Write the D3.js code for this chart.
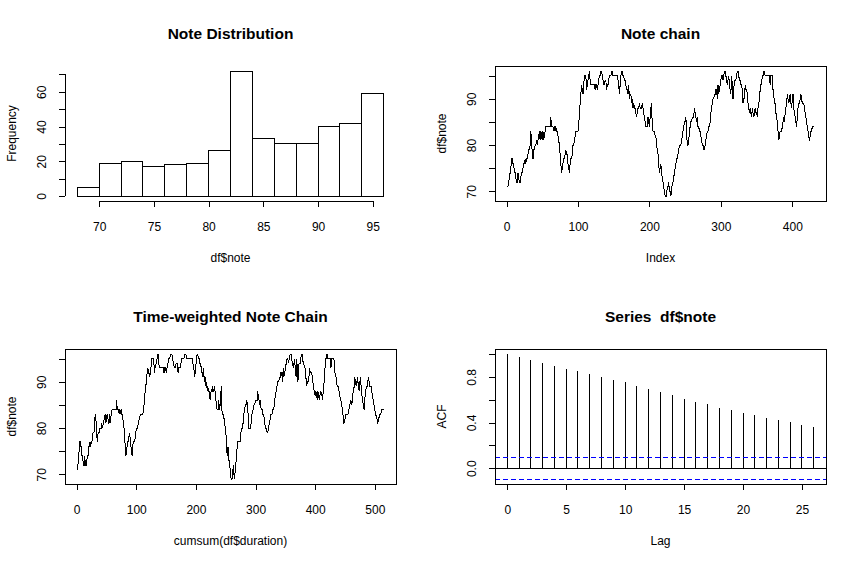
<!DOCTYPE html>
<html>
<head>
<meta charset="utf-8">
<script src="https://cdn.jsdelivr.net/npm/d3@7"></script>
<style>
body { margin: 0; background: #fff; }
svg { display: block; font-family: Arial, "Liberation Sans", sans-serif; }
svg text { white-space: pre; }
</style>
</head>
<body>
<div id="chart"></div>
<script>
// histogram of df$note
const histBreaks = [68, 70, 72, 74, 76, 78, 80, 82, 84, 86, 88, 90, 92, 94, 96];
const histCounts = [5, 19, 20, 17, 18, 19, 26, 72, 33, 30, 30, 40, 42, 59];

// df$note
const notes = [
  71,71,72,73,74,75,77,77,76,76, 74,74,73,72,72,74,73,72,72,73,
  74,74,75,76,76,77,76,77,77,78, 79,79,80,83,81,78,77,79,79,80,
  80,81,80,81,82,83,81,83,82,81, 83,81,82,83,84,84,84,84,84,84,
  84,86,84,84,84,83,84,83,84,83, 83,82,81,80,78,76,74,75,76,77,
  77,78,79,78,78,76,75,74,76,77, 77,78,80,80,81,82,83,83,83,83,
  84,87,89,91,93,92,91,93,95,95, 95,92,93,94,95,96,94,93,93,93,
  93,93,93,92,93,93,92,93,94,95, 95,96,96,95,94,93,93,94,94,92,
  93,93,94,95,95,95,96,96,95,95, 95,95,95,95,95,94,93,91,93,95,
  96,96,95,95,94,94,93,92,92,91, 93,90,91,91,89,90,88,89,88,88,
  87,86,87,88,88,89,88,88,88,89, 88,87,86,85,84,84,84,86,85,84,
  86,88,89,84,83,83,83,82,82,80, 79,78,76,74,75,76,74,73,72,71,
  70,69,69,69,71,71,72,70,70,69, 70,72,72,73,74,75,76,77,77,78,
  79,80,80,80,81,82,83,84,85,85, 86,83,80,80,81,83,84,85,85,86,
  86,86,88,87,86,85,86,84,84,83, 83,82,81,80,80,79,79,80,81,82,
  83,83,84,84,85,87,88,89,90,90, 91,91,92,92,90,93,91,92,93,94,
  95,95,94,95,96,96,95,94,93,94, 95,93,92,91,95,93,90,92,94,94,
  94,95,96,96,95,94,94,93,93,92, 89,90,90,93,92,92,91,89,88,87,
  88,87,86,88,87,86,87,88,87,87, 86,88,89,90,92,93,93,95,95,96,
  96,95,95,95,95,95,95,95,93,95, 95,95,92,91,89,89,87,86,85,83,
  81,82,83,83,83,84,85,86,85,87, 88,89,91,90,89,90,91,89,88,90,
  91,88,87,86,85,84,86,88,89,89, 90,91,90,89,89,89,88,87,86,85,
  84,83,82,81,82,83,83,84,84,84
];

// df$duration, estimated from the time-weighted plot
const durations = [
  1,0.5,0.5,1,0.5,0.5,1,1,1,1, 1,1,0.5,1,1,0.5,1,1,1,1,
  1,1,1,0.5,1,1,1,1,1,1, 1,1.5,1,1,2,1,1,1,1.5,1.5,
  2,1,1.5,1,2,1.5,1,2,1.5,1.5, 1,1,1,1,1.5,1,1,1,1.5,1,
  1,1,1,1,1,1.5,1,1,1,1, 1,1,1,1,1,1,1,1,1,1,
  1,1,1,1,0.5,1,1,1,1,1, 2,1.5,1.5,2,1.5,1.5,2,1.5,1,1.5,
  1.5,1.5,2,1.5,1.5,2,1.5,2,1.5,1.5, 1.5,1.5,1,2,1.5,1.5,1,1.5,1.5,1.5,
  1,1.5,1,1,1.5,1,1.5,1,1.5,1.5, 1.5,2,1.5,1.5,1,2,1.5,1.5,1.5,1.5,
  1.5,2,1.5,1.5,1.5,2,1.5,1.5,1.5,1.5, 1.5,1.5,1.5,1.5,1.5,1.5,1.5,1.5,1.5,1.5,
  1,1,1.5,1,1,1,1.5,1,1,1, 1,1,1,1,1,1,1,1,1,1,
  1,1,0.5,1,1,1,0.5,1,1,1, 1,0.5,1,1,1,1,1,0.5,1,1,
  1,1,1,0.5,1,1,0.5,1,1,1, 1,1,0.5,1,0.5,1,1,0.5,1,1,
  1,0.5,1,0.5,1,0.5,1,0.5,0.5,1, 0.5,0.5,0.5,1,0.5,0.5,1,1,4,0.5,
  0.5,1,0.5,1,1,1,0.5,1,1.5,1, 1.5,2,1.5,2,1.5,1.5,2,1.5,1,1.5,
  1,1.5,1,1,1.5,1,1,1.5,1.5,1, 1.5,1,1,1.5,1,1.5,1,1.5,1,1.5,
  1.5,1.5,1.5,1.5,1,1.5,1.5,1.5,1.5,1.5, 1,1.5,1,1.5,1,1.5,1,1.5,1,1.5,
  1.5,1,1.5,1,1.5,1.5,1,1.5,1.5,1, 1,1,1,0.5,1,1,1,1,1,1,
  1,1,1,1,1,1,1,1,1,1, 1.5,1.5,2,1.5,1.5,2,1.5,1.5,1.5,1.5,
  1,1.5,1,1,1.5,1,1,1.5,1.5,1, 0.5,1,0.5,1,0.5,1,0.5,1,0.5,0.5,
  1,1,0.5,1,1,0.5,1,1,0.5,1, 2,2,1.5,2,2,2,2,2,1.5,2,
  1.5,2,1.5,1.5,2,1.5,1.5,2,1.5,1.5, 1,1.5,1,1,1.5,1,1,1.5,1.5,1,
  1,1.5,1,1,1.5,1,1,1.5,1.5,1, 1,1.5,1,1,1,1.5,1,1,1.5,1,
  1.5,1.5,2,1.5,1.5,2,1.5,2,1.5,1.5
];

// acf(df$note)
const acfValues = [1.000, 0.973, 0.948, 0.922, 0.896, 0.870, 0.853, 0.827, 0.800, 0.775,
  0.757, 0.723, 0.697, 0.671, 0.645, 0.610, 0.584, 0.558, 0.523, 0.506,
  0.480, 0.462, 0.436, 0.419, 0.402, 0.376, 0.358];
const acfCI = 0.0945;

// tick values / labels
const histXTicks = [70, 75, 80, 85, 90, 95];
const histYTicks = [0, 10, 20, 30, 40, 50, 60, 70];
const histYLabels = ["0", "", "20", "", "40", "", "60", ""];
const noteYTicks = [70, 75, 80, 85, 90, 95];
const noteYLabels = ["70", "", "80", "", "90", ""];
const indexTicks = [0, 100, 200, 300, 400];
const timeTicks = [0, 100, 200, 300, 400, 500];
const lagTicks = [0, 5, 10, 15, 20, 25];
const acfYTicks = [0, 0.2, 0.4, 0.6, 0.8, 1.0];
const acfYLabels = ["0.0", "", "0.4", "", "0.8", ""];

const W = 860, H = 566;
const svg = d3.select("#chart").append("svg").attr("width", W).attr("height", H);

// R style 2x2 layout
function panel(col, row) {
  const fx = col * 430, fy = row * 283;
  return { fx: fx, fy: fy, l: fx + 65, r: fx + 396, t: fy + 66, b: fy + 201 };
}
function ext(lo, hi) { const d = (hi - lo) * 0.04; return [lo - d, hi + d]; }

function box(p) {
  svg.append("rect").attr("x", p.l).attr("y", p.t).attr("width", p.r - p.l).attr("height", p.b - p.t)
    .attr("fill", "none").attr("stroke", "#000").attr("shape-rendering", "crispEdges");
}

function xAxis(p, x, ticks, labels) {
  const g = svg.append("g").attr("transform", "translate(0," + p.b + ")")
    .call(d3.axisBottom(x).tickValues(ticks).tickSize(6).tickSizeOuter(0)
      .tickFormat((d, i) => labels ? labels[i] : d));
  g.attr("font-size", null).attr("font-family", null);
  g.select(".domain").remove();
  g.append("line").attr("x1", x(ticks[0])).attr("x2", x(ticks[ticks.length - 1]))
    .attr("stroke", "#000");
  g.selectAll("line").attr("shape-rendering", "crispEdges");
  g.selectAll("text").attr("y", 21.5).attr("dy", "0.71em").style("font-size", "12px").attr("fill", "#000");
}

function yAxis(p, y, ticks, labels) {
  const g = svg.append("g").attr("transform", "translate(" + p.l + ",0)")
    .call(d3.axisLeft(y).tickValues(ticks).tickSize(6).tickSizeOuter(0)
      .tickFormat((d, i) => labels[i]));
  g.attr("font-size", null).attr("font-family", null);
  g.select(".domain").remove();
  g.append("line").attr("y1", y(ticks[0])).attr("y2", y(ticks[ticks.length - 1]))
    .attr("stroke", "#000");
  g.selectAll("line").attr("shape-rendering", "crispEdges");
  g.selectAll("text").attr("x", 0).attr("dy", "0.35em")
    .attr("transform", "translate(-23.5,0) rotate(-90)")
    .attr("text-anchor", "middle").style("font-size", "12px").attr("fill", "#000");
}

function labels(p, main, xlab, ylab) {
  const cx = (p.l + p.r) / 2;
  svg.append("text").attr("x", cx).attr("y", p.fy + 34).attr("dy", "0.35em")
    .attr("text-anchor", "middle").style("font-size", "15.5px").style("font-weight", "bold").text(main);
  svg.append("text").attr("x", cx).attr("y", p.fy + 258).attr("dy", "0.35em")
    .attr("text-anchor", "middle").style("font-size", "12px").text(xlab);
  svg.append("text").attr("transform", "translate(" + (p.l - 53) + "," + ((p.t + p.b) / 2) + ") rotate(-90)")
    .attr("dy", "0.35em").attr("text-anchor", "middle").style("font-size", "12px").text(ylab);
}

// ---- 1. histogram
{
  const p = panel(0, 0);
  const x = d3.scaleLinear().domain(ext(histBreaks[0], histBreaks[histBreaks.length - 1])).range([p.l, p.r]);
  const y = d3.scaleLinear().domain(ext(0, d3.max(histCounts))).range([p.b, p.t]);
  svg.append("g").selectAll("rect").data(histCounts).enter().append("rect")
    .attr("x", (d, i) => x(histBreaks[i]))
    .attr("width", (d, i) => x(histBreaks[i + 1]) - x(histBreaks[i]))
    .attr("y", d => y(d))
    .attr("height", d => y(0) - y(d))
    .attr("fill", "#fff").attr("stroke", "#000").attr("shape-rendering", "crispEdges");
  xAxis(p, x, histXTicks);
  yAxis(p, y, histYTicks, histYLabels);
  labels(p, "Note Distribution", "df$note", "Frequency");
}

// ---- 2. note chain
{
  const p = panel(1, 0);
  const x = d3.scaleLinear().domain(ext(1, notes.length)).range([p.l, p.r]);
  const y = d3.scaleLinear().domain(ext(d3.min(notes), d3.max(notes))).range([p.b, p.t]);
  svg.append("path").datum(notes)
    .attr("d", d3.line().x((d, i) => x(i + 1)).y(d => y(d)))
    .attr("fill", "none").attr("stroke", "#000").attr("stroke-width", 1)
    .attr("shape-rendering", "crispEdges");
  box(p);
  xAxis(p, x, indexTicks);
  yAxis(p, y, noteYTicks, noteYLabels);
  labels(p, "Note chain", "Index", "df$note");
}

// ---- 3. time-weighted chain
{
  const p = panel(0, 1);
  const t = d3.cumsum(durations);
  const x = d3.scaleLinear().domain(ext(d3.min(t), d3.max(t))).range([p.l, p.r]);
  const y = d3.scaleLinear().domain(ext(d3.min(notes), d3.max(notes))).range([p.b, p.t]);
  svg.append("path").datum(notes)
    .attr("d", d3.line().x((d, i) => x(t[i])).y(d => y(d)))
    .attr("fill", "none").attr("stroke", "#000").attr("stroke-width", 1)
    .attr("shape-rendering", "crispEdges");
  box(p);
  xAxis(p, x, timeTicks);
  yAxis(p, y, noteYTicks, noteYLabels);
  labels(p, "Time-weighted Note Chain", "cumsum(df$duration)", "df$note");
}

// ---- 4. ACF
{
  const p = panel(1, 1);
  const x = d3.scaleLinear().domain(ext(0, acfValues.length - 1)).range([p.l, p.r]);
  const y = d3.scaleLinear().domain(ext(-acfCI, d3.max(acfValues))).range([p.b, p.t]);
  svg.append("g").selectAll("line").data(acfValues).enter().append("line")
    .attr("x1", (d, i) => x(i)).attr("x2", (d, i) => x(i))
    .attr("y1", y(0)).attr("y2", d => y(d))
    .attr("stroke", "#000").attr("shape-rendering", "crispEdges");
  svg.append("line").attr("x1", p.l).attr("x2", p.r).attr("y1", y(0)).attr("y2", y(0))
    .attr("stroke", "#000").attr("shape-rendering", "crispEdges");
  [acfCI, -acfCI].forEach(c => {
    svg.append("line").attr("x1", p.l).attr("x2", p.r).attr("y1", y(c)).attr("y2", y(c))
      .attr("stroke", "#0000ff").attr("stroke-dasharray", "5,3").attr("shape-rendering", "crispEdges");
  });
  box(p);
  xAxis(p, x, lagTicks);
  yAxis(p, y, acfYTicks, acfYLabels);
  labels(p, "Series  df$note", "Lag", "ACF");
}
</script>
</body>
</html>
